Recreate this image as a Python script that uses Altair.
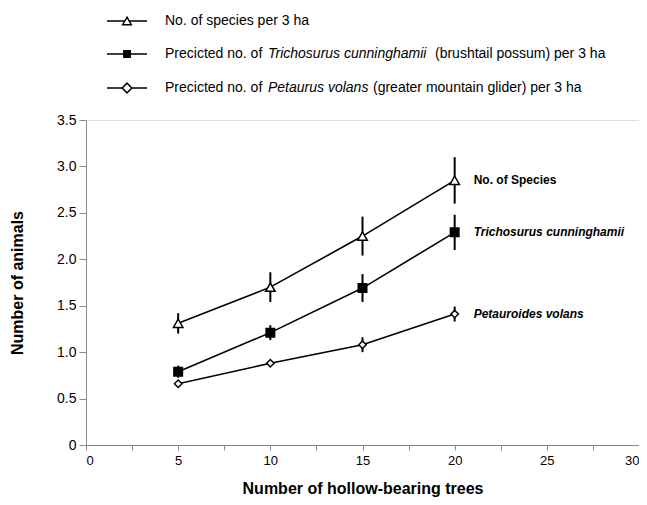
import altair as alt
import pandas as pd

# ---- data ----
trees = [5, 10, 15, 20]
species_mean = [1.31, 1.70, 2.25, 2.85]
species_err = [0.11, 0.16, 0.21, 0.25]
possum_mean = [0.79, 1.21, 1.69, 2.29]
possum_err = [0.065, 0.08, 0.15, 0.19]
glider_mean = [0.66, 0.88, 1.08, 1.41]
glider_err = [0.02, 0.02, 0.08, 0.08]

series_names = ["No. of Species", "Trichosurus cunninghamii", "Petauroides volans"]
series_shapes = ["triangle-up", "square", "diamond"]
series_fills = ["white", "black", "white"]
series_sizes = [90, 55, 110]

legend_rows = [
    [("No. of species per 3 ha", "normal")],
    [("Precicted no. of", "normal"), ("Trichosurus cunninghamii", "italic"),
     ("(brushtail possum) per 3 ha", "normal")],
    [("Precicted no. of", "normal"), ("Petaurus volans", "italic"),
     ("(greater mountain glider) per 3 ha", "normal")],
]

x_ticks = [0, 2.5, 5, 7.5, 10, 12.5, 15, 17.5, 20, 22.5, 25, 27.5, 30]
y_ticks = [0, 0.5, 1.0, 1.5, 2.0, 2.5, 3.0, 3.5]

# ---- build table ----
rows = []
for name, means, errs in zip(series_names,
                             [species_mean, possum_mean, glider_mean],
                             [species_err, possum_err, glider_err]):
    for t, m, e in zip(trees, means, errs):
        rows.append({"series": name, "trees": t, "mean": m,
                     "lo": m - e, "hi": m + e})
df = pd.DataFrame(rows)

FONT = "Liberation Sans"

x_enc = alt.X("trees:Q", scale=alt.Scale(domain=[0, 30], nice=False),
              axis=alt.Axis(values=x_ticks,
                            labelExpr="datum.value % 5 === 0 ? datum.label : ''",
                            title="Number of hollow-bearing trees",
                            tickSize=5, labelPadding=4, titlePadding=13,
                            labelFontSize=13, titleFontSize=16,
                            titleFontWeight="bold", grid=False))
y_enc = alt.Y("mean:Q", scale=alt.Scale(domain=[0, 3.5], nice=False),
              axis=alt.Axis(values=y_ticks,
                            labelExpr="datum.value === 0 ? '0' : format(datum.value, '.1f')",
                            title="Number of animals",
                            tickSize=7, labelPadding=3, titlePadding=31,
                            labelFontSize=14, titleFontSize=16,
                            titleFontWeight="bold", grid=False))

shape_scale = alt.Scale(domain=series_names, range=series_shapes)
fill_scale = alt.Scale(domain=series_names, range=series_fills)
size_scale = alt.Scale(domain=series_names, range=series_sizes)

base = alt.Chart(df)

lines = base.mark_line(color="black", strokeWidth=1.6).encode(
    x=x_enc, y=y_enc, detail="series:N")

errbars = base.mark_rule(color="black", strokeWidth=2).encode(
    x="trees:Q", y="lo:Q", y2="hi:Q")

points = base.mark_point(stroke="black", strokeWidth=1.5, opacity=1,
                         filled=False).encode(
    x="trees:Q", y="mean:Q",
    shape=alt.Shape("series:N", scale=shape_scale, legend=None),
    fill=alt.Fill("series:N", scale=fill_scale, legend=None),
    size=alt.Size("series:N", scale=size_scale, legend=None))

last = df[df["trees"] == max(trees)]
ann_normal = alt.Chart(last[last["series"] == series_names[0]]).mark_text(
    align="left", baseline="middle", dx=19, font=FONT, fontSize=12,
    fontWeight="bold", color="black").encode(
    x="trees:Q", y="mean:Q", text="series:N")
ann_italic = alt.Chart(last[last["series"] != series_names[0]]).mark_text(
    align="left", baseline="middle", dx=19, font=FONT, fontSize=12,
    fontWeight="bold", fontStyle="italic", color="black").encode(
    x="trees:Q", y="mean:Q", text="series:N")

# ---- manual legend above the plot (pixel layout) ----
legend_y = [-99, -66, -32]
seg_x = [[79], [79, 182, 349], [79, 182, 287]]
one = pd.DataFrame({"k": [0]})
legend_layers = []
for i, parts in enumerate(legend_rows):
    ry = legend_y[i]
    legend_layers.append(alt.Chart(one).mark_rule(color="black", strokeWidth=1.6).encode(
        x=alt.value(21), x2=alt.value(61), y=alt.value(ry)))
    legend_layers.append(alt.Chart(one).mark_point(
        shape=series_shapes[i], fill=series_fills[i], stroke="black",
        strokeWidth=1.5, size=series_sizes[i] - 15, opacity=1, filled=False).encode(
        x=alt.value(41), y=alt.value(ry)))
    for (txt, style), sx in zip(parts, seg_x[i]):
        legend_layers.append(alt.Chart(one).mark_text(
            align="left", baseline="middle", font=FONT, fontSize=14,
            fontStyle=style, color="black").encode(
            x=alt.value(sx), y=alt.value(ry), text=alt.value(txt)))

chart = alt.layer(lines, errbars, points, ann_normal, ann_italic,
                  *legend_layers).properties(
    width=553, height=325,
    autosize=alt.AutoSizeParams(type="none"),
    padding={"left": 78, "top": 112, "right": 0, "bottom": 52},
).configure_view(stroke="#444", strokeWidth=1).configure_axis(
    domainColor="black", domainWidth=1.5, tickColor="black", tickWidth=1.5,
    labelColor="black", titleColor="black", labelFont=FONT, titleFont=FONT,
).configure(background="white")

chart.save("out.html", embed_options={"renderer": "svg", "actions": False})
